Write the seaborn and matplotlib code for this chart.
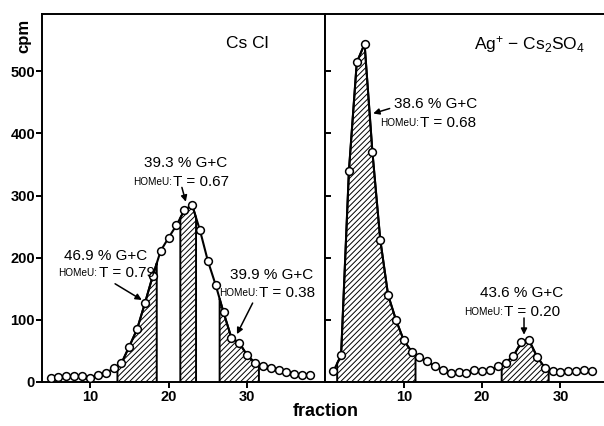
import numpy as np
import matplotlib
matplotlib.use("Agg")
import matplotlib.pyplot as plt
import seaborn as sns

sns.set_style("ticks")
plt.rcParams['font.family'] = ['Liberation Sans', 'DejaVu Sans']
plt.rcParams['mathtext.fontset'] = 'custom'
plt.rcParams['mathtext.rm'] = 'Liberation Sans'
plt.rcParams['mathtext.it'] = 'Liberation Sans:italic'
plt.rcParams['mathtext.bf'] = 'Liberation Sans:bold'
plt.rcParams['hatch.linewidth'] = 0.7
for key in ['text.color', 'axes.labelcolor', 'xtick.color', 'ytick.color', 'axes.edgecolor']:
    plt.rcParams[key] = 'black'

# CsCl gradient
cscl_fraction = list(range(5, 39))
cscl_cpm = [7, 7.5, 10, 10, 10, 7, 12, 14, 22, 30, 57, 85, 127, 171, 211, 232, 252,
            276, 285, 244, 195, 156, 112, 71, 63, 43, 31, 26, 23, 19, 16, 13, 12, 12]
cscl_pools = [(13.5, 18.5), (21.5, 23.5), (26.5, 31.5)]

# Ag+ - Cs2SO4 gradient
ag_fraction = list(range(1, 35))
ag_cpm = [17, 43, 340, 514, 544, 370, 229, 140, 100, 67, 49, 40, 33, 25, 20, 14, 16,
          15, 19, 18, 20, 25, 31, 42, 64, 67, 41, 23, 17, 16, 17, 18, 20, 18]
ag_pools = [(1.5, 11.5), (22.5, 28.5)]

# (x, y of "% G+C" line, y of HOMeU line, anchor x of HOMeU line, percent, T, arrow start, arrow end)
cscl_notes = [
    (22.2, 352, 321, 20.4, "39.3", "0.67", (21.7, 313), (22.2, 290)),
    (12.0, 203, 175, 10.95, "46.9", "0.79", (13.2, 158), (16.6, 132)),
    (33.1, 172, 143, 31.4, "39.9", "0.38", (30.7, 127), (28.7, 77)),
]
ag_notes = [
    (14.1, 448, 416, 11.9, "38.6", "0.68", (8.2, 440), (6.1, 432)),
    (25.1, 143, 112, 22.7, "43.6", "0.20", (25.35, 103), (25.35, 76)),
]


def draw_panel(ax, fraction, cpm, pools, notes, title, title_pos, xlim):
    x = np.array(fraction, dtype=float)
    y = np.array(cpm, dtype=float)
    for a, b in pools:
        xf = np.linspace(a, b, 200)
        yf = np.interp(xf, x, y)
        ax.fill_between(xf, 0, yf, facecolor='white', edgecolor='black',
                        hatch='//////', linewidth=1.4, zorder=1)
    sns.lineplot(x=x, y=y, ax=ax, color='black', lw=1.5, marker='o', markersize=5.6,
                 markerfacecolor='white', markeredgecolor='black', markeredgewidth=1.1,
                 zorder=3)
    for tx, ty1, ty2, ax_, pct, t, a0, a1 in notes:
        ax.text(tx, ty1, f"{pct} % G+C", ha='center', va='center', fontsize=11)
        ax.text(ax_, ty2, "HOMeU:", ha='right', va='center', fontsize=7.2)
        ax.text(ax_ + 0.15, ty2, f"T = {t}", ha='left', va='center', fontsize=11)
        ax.annotate("", xy=a1, xytext=a0,
                    arrowprops=dict(arrowstyle='-|>', color='black', lw=1.1,
                                    mutation_scale=9, shrinkA=0, shrinkB=0))
    ax.text(title_pos[0], title_pos[1], title, ha='center', va='center', fontsize=12.5)
    ax.set_xlim(*xlim)
    ax.set_ylim(0, 592)
    ax.set_xticks([10, 20, 30])
    ax.set_yticks([0, 100, 200, 300, 400, 500])
    ax.set_xlabel("")
    ax.set_ylabel("")
    for s in ax.spines.values():
        s.set_linewidth(1.4)
    ax.tick_params(axis='x', direction='out', length=4, width=1.4, labelsize=10.5, pad=2)
    for lab in ax.get_xticklabels():
        lab.set_fontweight('bold')


fig = plt.figure(figsize=(6.04, 4.26), dpi=100)
ax1 = fig.add_axes([0.0695, 0.1033, 0.4685, 0.8638])
ax2 = fig.add_axes([0.538, 0.1033, 0.462, 0.8638])

draw_panel(ax1, cscl_fraction, cscl_cpm, cscl_pools, cscl_notes,
           "Cs Cl", (30.0, 545), (3.9, 39.9))
draw_panel(ax2, ag_fraction, ag_cpm, ag_pools, ag_notes,
           r"Ag$^{+}$ $-$ Cs$_{2}$SO$_{4}$", (26.0, 543), (-0.06, 35.56))

ax1.tick_params(axis='y', direction='out', length=4, width=1.4, labelsize=10.5, pad=1)
for lab in ax1.get_yticklabels():
    lab.set_fontweight('bold')
ax2.tick_params(axis='y', direction='in', length=4, width=1.4, labelleft=False)
ax2.spines['right'].set_visible(False)

fig.text(0.04, 0.915, "cpm", rotation=90, ha='center', va='center',
         fontsize=12, fontweight='bold')
fig.text(0.54, 0.033, "fraction", ha='center', va='center',
         fontsize=13, fontweight='bold')

fig.savefig("out.png", dpi=100)
